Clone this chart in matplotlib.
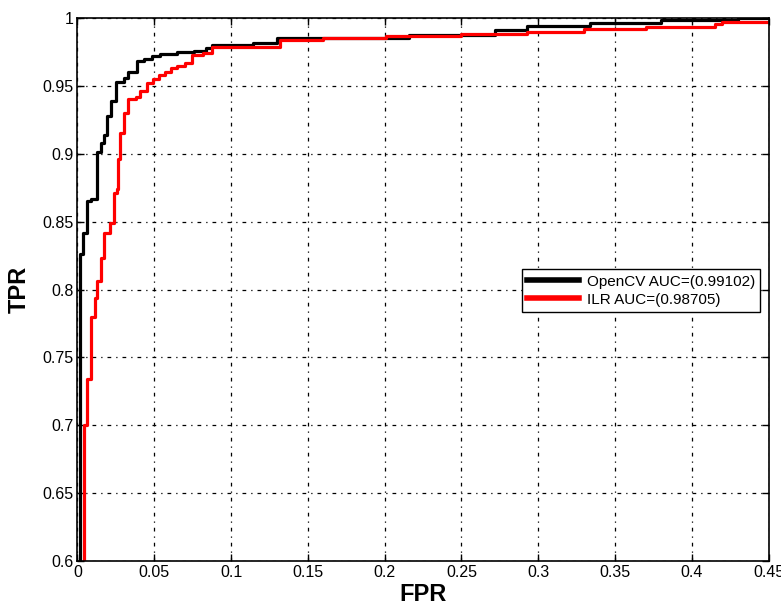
import matplotlib
matplotlib.use('Agg')
import matplotlib.pyplot as plt

# ROC points: (fpr where tpr jumps, tpr after jump)
cv_fpr = [0.0018, 0.0018, 0.0035, 0.0060, 0.0085, 0.0130, 0.0152, 0.0174, 0.0190,
          0.0217, 0.0250, 0.0300, 0.0330, 0.0390, 0.0430, 0.0485, 0.0540, 0.0650,
          0.0756, 0.0840, 0.0875, 0.1140, 0.1300, 0.2160, 0.2720, 0.2930, 0.3340,
          0.3800, 0.4300, 0.4500]
cv_tpr = [0.600, 0.826, 0.842, 0.865, 0.867, 0.901, 0.908, 0.914, 0.928,
          0.939, 0.953, 0.956, 0.960, 0.968, 0.970, 0.972, 0.9737, 0.975,
          0.976, 0.978, 0.980, 0.9815, 0.985, 0.9877, 0.991, 0.9945, 0.9965,
          0.9985, 1.000, 1.000]

ilr_fpr = [0.0040, 0.0040, 0.0060, 0.0087, 0.0115, 0.0127, 0.0150, 0.0174, 0.0210,
           0.0235, 0.0260, 0.0267, 0.0280, 0.0300, 0.0330, 0.0380, 0.0410, 0.0450,
           0.0490, 0.0530, 0.0570, 0.0610, 0.0650, 0.0700, 0.0745, 0.0820, 0.0875,
           0.1320, 0.1600, 0.2010, 0.2500, 0.2930, 0.3300, 0.3700, 0.4150, 0.4200,
           0.4500]
ilr_tpr = [0.600, 0.700, 0.734, 0.780, 0.794, 0.806, 0.823, 0.842, 0.849,
           0.871, 0.874, 0.896, 0.915, 0.930, 0.940, 0.942, 0.946, 0.952,
           0.955, 0.958, 0.960, 0.963, 0.965, 0.967, 0.9725, 0.9745, 0.979,
           0.9835, 0.985, 0.9865, 0.988, 0.990, 0.992, 0.9935, 0.9955, 0.997,
           0.997]

labels = ['OpenCV AUC=(0.99102)', 'ILR AUC=(0.98705)']
xticks = [0, 0.05, 0.1, 0.15, 0.2, 0.25, 0.3, 0.35, 0.4, 0.45]
xticklabels = ['0', '0.05', '0.1', '0.15', '0.2', '0.25', '0.3', '0.35', '0.4', '0.45']
yticks = [0.6, 0.65, 0.7, 0.75, 0.8, 0.85, 0.9, 0.95, 1.0]
yticklabels = ['0.6', '0.65', '0.7', '0.75', '0.8', '0.85', '0.9', '0.95', '1']

plt.rcParams['font.family'] = ['Liberation Sans', 'DejaVu Sans']

fig = plt.figure(figsize=(7.81, 6.08), dpi=100)
ax = fig.add_axes([0.0992, 0.0773, 0.8848, 0.893])

ax.step(cv_fpr, cv_tpr, where='post', color='black', lw=2.3, label=labels[0])
ax.step(ilr_fpr, ilr_tpr, where='post', color='red', lw=2.3, label=labels[1])

ax.set_xlim(0, 0.45)
ax.set_ylim(0.6, 1.0)
ax.set_xticks(xticks)
ax.set_xticklabels(xticklabels)
ax.set_yticks(yticks)
ax.set_yticklabels(yticklabels)
ax.tick_params(direction='in', length=5, width=1, top=True, right=True,
               labelsize=11.5, pad=3)
ax.grid(True, color='black', linestyle=(0, (3, 4, 1, 4)), lw=0.9)
for s in ax.spines.values():
    s.set_linewidth(1.2)

ax.set_xlabel('FPR', fontsize=17, fontweight='bold', labelpad=2)
ax.set_ylabel('TPR', fontsize=17, fontweight='bold', labelpad=8)

leg = ax.legend(loc='upper left', bbox_to_anchor=(0.643, 0.537), fontsize=11,
                handlelength=3.4, fancybox=False, framealpha=1, borderpad=0.35,
                labelspacing=0.25, handletextpad=0.5, borderaxespad=0)
leg.get_frame().set_edgecolor('black')
leg.get_frame().set_linewidth(1.0)
for h in leg.get_lines():
    h.set_linewidth(4)

fig.savefig('out.png', dpi=100)
